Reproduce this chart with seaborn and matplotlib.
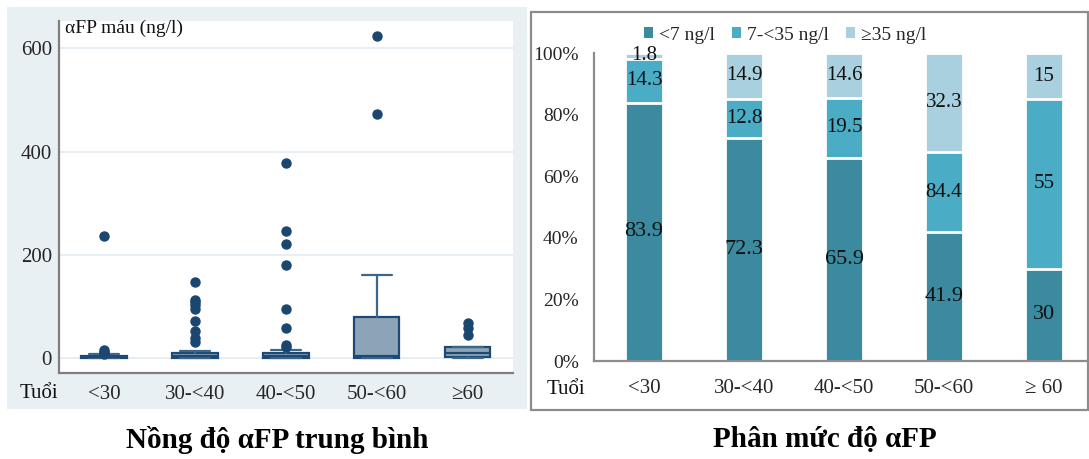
import numpy as np
import pandas as pd
import matplotlib
matplotlib.use("Agg")
import matplotlib.pyplot as plt
from matplotlib.patches import Rectangle, Patch
import seaborn as sns

# ---------------- data ----------------
age_groups = ["<30", "30-<40", "40-<50", "50-<60", "≥60"]
age_groups_right = ["<30", "30-<40", "40-<50", "50-<60", "≥ 60"]

# box statistics (ng/l)
box_whislo = [0, 0, 0, 0, 0]
box_q1 = [0.5, 0.5, 0.5, 1, 3]
box_med = [2, 5, 5, 5, 10]
box_q3 = [5, 9.7, 9.7, 80.5, 21]
box_whishi = [8, 14.7, 16, 162, 22.5]
box_fliers = [
    [237, 16, 13, 11, 9],
    [148, 113, 108, 103, 95, 72, 52, 39, 32],
    [378, 246, 222, 181, 95, 59, 26, 21],
    [624, 472],
    [69, 58, 45],
]

# stacked percentages (right panel)
pct_low = [83.9, 72.3, 65.9, 41.9, 30]      # <7 ng/l
pct_mid = [14.3, 12.8, 19.5, 25.8, 55]      # 7-<35 ng/l
pct_high = [1.8, 14.9, 14.6, 32.3, 15]      # >=35 ng/l
lab_low = ["83.9", "72.3", "65.9", "41.9", "30"]
lab_mid = ["14.3", "12.8", "19.5", "84.4", "55"]
lab_high = ["1.8", "14.9", "14.6", "32.3", "15"]
series_names = ["<7 ng/l", "7-<35 ng/l", "≥35 ng/l"]

# ---------------- style ----------------
sns.set_theme(style="white")
plt.rcParams["font.family"] = ["Liberation Serif", "DejaVu Serif"]
plt.rcParams["mathtext.fontset"] = "stix"

W, H = 1089, 459
fig = plt.figure(figsize=(W / 100, H / 100), dpi=100)
fig.patch.set_facecolor("white")

def fx(px):
    return px / W

def fy(py):
    return 1 - py / H

# left panel background
fig.patches.append(Rectangle((fx(6.7), fy(409)), fx(527 - 6.7), (409 - 7.3) / H,
                             transform=fig.transFigure, facecolor="#e9f0f4",
                             edgecolor="none", zorder=-10))
# right panel border
fig.patches.append(Rectangle((fx(530.7), fy(410)), fx(1088 - 530.7), (410 - 11.7) / H,
                             transform=fig.transFigure, facecolor="white",
                             edgecolor="#8c8c8c", linewidth=1.6, zorder=-10))

# ---------------- left: boxplot ----------------
axL = fig.add_axes([fx(58.7), fy(372.7), fx(513 - 58.7), (372.7 - 20.7) / H])
axL.set_facecolor("white")
stats = []
for i in range(len(age_groups)):
    stats.append(dict(whislo=box_whislo[i], q1=box_q1[i], med=box_med[i],
                      q3=box_q3[i], whishi=box_whishi[i], fliers=box_fliers[i],
                      label=age_groups[i]))
edge = "#1d4a74"
axL.bxp(stats, positions=range(len(age_groups)), widths=0.5, patch_artist=True,
        showfliers=True,
        boxprops=dict(facecolor="#8da4b8", edgecolor=edge, linewidth=1.6),
        medianprops=dict(color=edge, linewidth=1.6),
        whiskerprops=dict(color="#3e6688", linewidth=1.6),
        capprops=dict(color="#3e6688", linewidth=1.6),
        capwidths=0.33,
        flierprops=dict(marker="o", markerfacecolor="#1a4670",
                        markeredgecolor="#1a4670", markersize=6.5))
axL.set_xlim(-0.5, 4.5)
axL.set_ylim(-27.9, 653.4)
axL.set_yticks([0, 200, 400, 600])
axL.set_yticklabels(["0", "200", "400", "600"])
for v in [0, 200, 400, 600]:
    axL.axhline(v, color="#e6eef3", linewidth=1.3, zorder=0)
axL.set_xticks(range(len(age_groups)))
axL.set_xticklabels(age_groups)
axL.tick_params(axis="x", length=0, labelsize=15, pad=9)
axL.tick_params(axis="y", length=4, width=1, color="#7f7f7f", labelsize=15, pad=1, direction="out")
for s in ["top", "right"]:
    axL.spines[s].set_visible(False)
for s in ["left", "bottom"]:
    axL.spines[s].set_color("#7f7f7f")
    axL.spines[s].set_linewidth(1.6)
axL.text(fx(65), fy(28), "αFP máu (ng/l)", transform=fig.transFigure,
         fontsize=14, ha="left", va="center", color="#111111")
axL.text(293, 527, "p=0,0001", fontsize=15, style="italic", ha="center",
         va="center", color="#111111")
fig.text(fx(20), fy(393), "Tuổi", fontsize=15, ha="left", va="center", color="#111111")

# ---------------- right: stacked bars ----------------
axR = fig.add_axes([fx(594), fy(361), fx(1086 - 594), (361 - 53) / H])
axR.set_facecolor("white")
c_low, c_mid, c_high = "#3b8aa0", "#4aacc5", "#a9d0de"
cum_high = [a + b + c for a, b, c in zip(pct_low, pct_mid, pct_high)]
cum_mid = [a + b for a, b in zip(pct_low, pct_mid)]
df = pd.DataFrame({"age": age_groups_right, "total": cum_high,
                   "mid": cum_mid, "low": pct_low})
for col, colr in [("total", c_high), ("mid", c_mid), ("low", c_low)]:
    sns.barplot(data=df, x="age", y=col, color=colr, width=0.38,
                edgecolor="white", linewidth=2, saturation=1, ax=axR)

for i in range(len(age_groups_right)):
    axR.text(i, pct_low[i] / 2, lab_low[i], ha="center", va="center", fontsize=16, color="#111111")
    axR.text(i, pct_low[i] + pct_mid[i] / 2, lab_mid[i], ha="center", va="center", fontsize=15, color="#111111")
    axR.text(i, cum_mid[i] + pct_high[i] / 2, lab_high[i], ha="center", va="center", fontsize=15, color="#111111")

axR.set_xlim(-0.5, 4.42)
axR.set_ylim(0, 100)
axR.set_xlabel("")
axR.set_ylabel("")
axR.set_yticks(np.arange(0, 101, 20))
axR.set_yticklabels([f"{v}%" for v in range(0, 101, 20)])
axR.set_xticks(range(len(age_groups_right)))
axR.set_xticklabels(age_groups_right)
axR.set_xticks(np.arange(-0.5, 4.0, 1.0), minor=True)
axR.tick_params(axis="x", which="major", length=0, labelsize=15, pad=13)
axR.tick_params(axis="x", which="minor", length=5, width=1.3, color="#8c8c8c", direction="out")
axR.tick_params(axis="y", length=4, width=1.3, color="#8c8c8c", labelsize=14, pad=7, direction="out")
for s in ["top", "right"]:
    axR.spines[s].set_visible(False)
for s in ["left", "bottom"]:
    axR.spines[s].set_color("#8c8c8c")
    axR.spines[s].set_linewidth(1.6)
fig.text(fx(547), fy(390), "Tuổi", fontsize=15, ha="left", va="center", color="#111111")

handles = [Patch(facecolor=c, edgecolor="none") for c in (c_low, c_mid, c_high)]
fig.legend(handles, series_names, loc="center left", bbox_to_anchor=(fx(644), fy(35)),
           ncol=3, frameon=False, fontsize=14, handlelength=0.45, handleheight=0.45,
           handletextpad=0.3, columnspacing=0.9, borderpad=0, borderaxespad=0)

# ---------------- titles ----------------
fig.text(fx(277), fy(440), "Nồng độ αFP trung bình", fontsize=21, fontweight="bold",
         ha="center", va="center", color="black")
fig.text(fx(824.5), fy(440), "Phân mức độ αFP", fontsize=21, fontweight="bold",
         ha="center", va="center", color="black")

fig.savefig("out.png", dpi=100)
